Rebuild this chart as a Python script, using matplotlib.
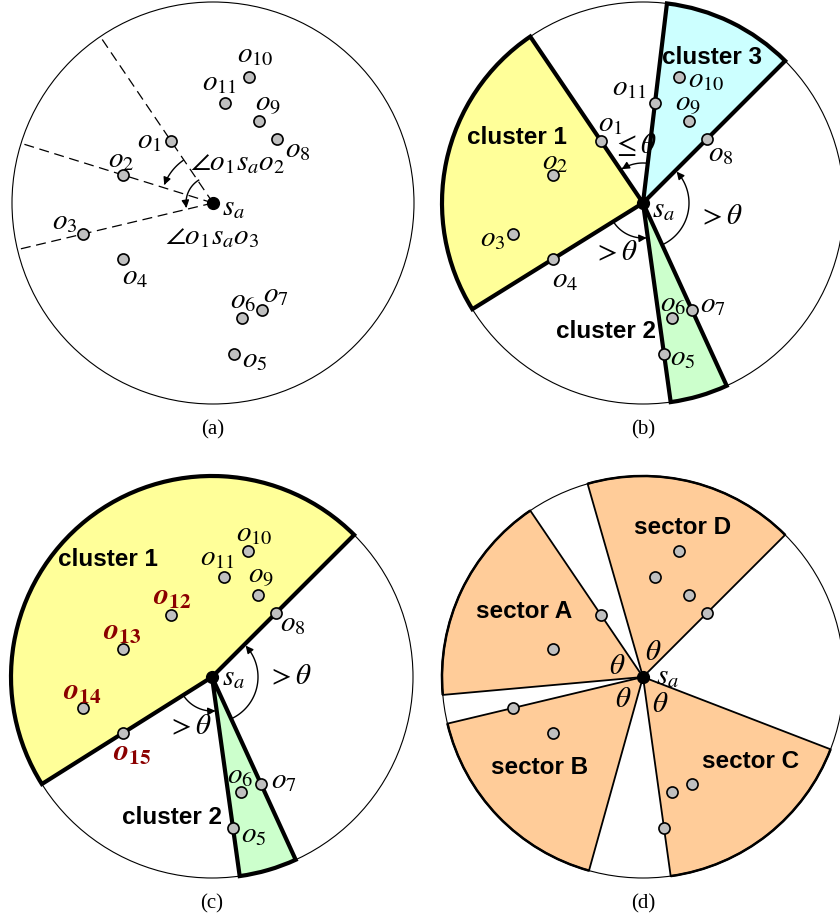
import numpy as np
import matplotlib
matplotlib.use('Agg')
import matplotlib.pyplot as plt
from matplotlib.patches import Wedge, Circle, Arc

plt.rcParams['mathtext.fontset'] = 'stix'
plt.rcParams['font.family'] = ['Liberation Serif', 'DejaVu Serif']

# ---------------- data ----------------
point_names = ['o1', 'o2', 'o3', 'o4', 'o5', 'o6', 'o7', 'o8', 'o9', 'o10', 'o11']
point_dx = [-42, -90, -130, -90, 21, 29, 49, 64, 46, 36, 12]
point_dy = [62, 28, -31, -56, -151, -115, -107, 64, 82, 126, 100]
new_names = ['o12', 'o13', 'o14', 'o15']
new_dx = [-41, -89, -129, -89]
new_dy = [62, 28, -31, -56]
theta_deg = 61
captions = ['(a)', '(b)', '(c)', '(d)']
clusters_b = [('cluster 1', 'o1', 'o4'), ('cluster 2', 'o5', 'o7'), ('cluster 3', 'o8', 'o11')]
clusters_c = [('cluster 1', 'o8', 'o15'), ('cluster 2', 'o5', 'o7')]
sectors_d = [('sector A', 'o1'), ('sector B', 'o3'), ('sector C', 'o5'), ('sector D', 'o8')]

# ---------------- helpers ----------------
W, H = 840, 921
R = 201
FS = 21
pts = {n: (x, y) for n, x, y in zip(point_names, point_dx, point_dy)}
pts.update({n: (x, y) for n, x, y in zip(new_names, new_dx, new_dy)})


def ang(n):
    x, y = pts[n]
    return np.degrees(np.arctan2(y, x)) % 360


def span(a0, a1):
    a0, a1 = a0 % 360, a1 % 360
    if a1 < a0:
        a1 += 360
    return a0, a1


fig = plt.figure(figsize=(W / 100, H / 100), dpi=100)


def make_ax(x0, y0, w, h, cx, cy):
    ax = fig.add_axes([x0 / W, 1 - (y0 + h) / H, w / W, h / H])
    ax.set_xlim(x0 - cx, x0 + w - cx)
    ax.set_ylim(cy - (y0 + h), cy - y0)
    ax.axis('off')
    return ax


def base_circle(ax):
    ax.add_patch(Circle((0, 0), R, fc='white', ec='black', lw=0.8, zorder=1))


def draw_points(ax, names):
    xs = [pts[n][0] for n in names]
    ys = [pts[n][1] for n in names]
    ax.plot(xs, ys, 'o', ms=8, mfc='#c0c0c0', mec='black', mew=1.2, zorder=6, ls='none')


def draw_sa(ax, dx=10, dy=-5):
    ax.plot([0], [0], 'o', ms=8.5, color='black', zorder=7)
    ax.text(dx, dy, r'$s_a$', fontsize=FS, ha='left', va='center', zorder=8)


def label(ax, n, dx, dy, ha='left', **kw):
    x, y = pts[n]
    ax.text(x + dx, y + dy, r'$o_{%s}$' % n[1:], fontsize=FS, ha=ha, va='center',
            zorder=8, **kw)


def arc_arrow(ax, r, a0, a1, lw=1.0):
    a0, a1 = span(a0, a1)
    t = np.radians(np.linspace(a0, a1, 100))
    x, y = r * np.cos(t), r * np.sin(t)
    ax.plot(x[:-4], y[:-4], color='black', lw=lw, zorder=5)
    ax.annotate('', xy=(x[-1], y[-1]), xytext=(x[-8], y[-8]),
                arrowprops=dict(arrowstyle='-|>', color='black', lw=lw,
                                mutation_scale=11, shrinkA=0, shrinkB=0), zorder=5)


def caption(ax, s):
    ax.text(0, -227, s, fontsize=15, ha='center', va='center')


def bold_label(ax, name, x, y):
    ax.text(x, y, name, fontsize=17.5, fontweight='bold', family='Liberation Sans',
            ha='center', va='center', zorder=8)


# ---------------- panel (a) ----------------
ax = make_ax(0, 0, 420, 460, 213, 203)
base_circle(ax)
for n in ['o1', 'o2', 'o3']:
    a = np.radians(ang(n))
    ax.plot([0, R * np.cos(a)], [0, R * np.sin(a)], color='black', lw=0.9,
            ls=(0, (8, 4.5)), zorder=2)
arc_arrow(ax, 52, ang('o1') + 1, ang('o2') - 3)
arc_arrow(ax, 27, ang('o1') - 2, ang('o3') - 3)
ax.text(-23, 40, r'$\angle o_1 s_a o_2$', fontsize=FS, ha='left', va='center', zorder=8)
ax.text(-48, -34, r'$\angle o_1 s_a o_3$', fontsize=FS, ha='left', va='center', zorder=8)
draw_points(ax, point_names)
draw_sa(ax, 9, -5)
lab_a = {'o1': (-9, 0, 'right'), 'o2': (-15, 15, 'left'), 'o3': (-6, 12, 'right'),
         'o4': (-1, -18, 'left'), 'o5': (8, -6, 'left'), 'o6': (-12, 17, 'left'),
         'o7': (1, 15, 'left'), 'o8': (8, -11, 'left'), 'o9': (-4, 16, 'left'),
         'o10': (-12, 22, 'left'), 'o11': (-23, 20, 'left')}
for n, (dx, dy, ha) in lab_a.items():
    label(ax, n, dx, dy, ha)
caption(ax, captions[0])

# ---------------- panel (b) ----------------
ax = make_ax(420, 0, 420, 460, 643, 203)
base_circle(ax)
colors_b = {'cluster 1': '#ffff99', 'cluster 2': '#ccffcc', 'cluster 3': '#ccffff'}
for name, p0, p1 in clusters_b:
    a0, a1 = span(ang(p0), ang(p1))
    ax.add_patch(Wedge((0, 0), R, a0, a1, fc=colors_b[name], ec='black', lw=3,
                       zorder=2, joinstyle='miter'))
arc_arrow(ax, 40, ang('o11'), ang('o1') - 2)
arc_arrow(ax, 46, ang('o7') + 2, ang('o8') - 2)
arc_arrow(ax, 35, ang('o4') + 3, ang('o5') - 2)
draw_points(ax, point_names)
draw_sa(ax, 9, -7)
lab_b = {'o1': (-3, 17, 'left'), 'o2': (-11, 13, 'left'), 'o3': (-8, -5, 'right'),
         'o4': (-1, -21, 'left'), 'o5': (6, -4, 'left'), 'o6': (-12, 14, 'left'),
         'o7': (8, 5, 'left'), 'o8': (1, -15, 'left'), 'o9': (-14, 16, 'left'),
         'o10': (9, -3, 'left'), 'o11': (-8, 15, 'right')}
for n, (dx, dy, ha) in lab_b.items():
    label(ax, n, dx, dy, ha)
ax.text(-31, 58, r'$\leq\theta$', fontsize=FS, ha='left', va='center', zorder=8)
ax.text(55, -14, r'$>\theta$', fontsize=FS, ha='left', va='center', zorder=8)
ax.text(-50, -50, r'$>\theta$', fontsize=FS, ha='left', va='center', zorder=8)
lbl_pos_b = {'cluster 1': (-126, 65), 'cluster 2': (-37, -129), 'cluster 3': (69, 146)}
for name, (x, y) in lbl_pos_b.items():
    bold_label(ax, name, x, y)
caption(ax, captions[1])

# ---------------- panel (c) ----------------
ax = make_ax(0, 460, 420, 461, 212, 677)
base_circle(ax)
colors_c = {'cluster 1': '#ffff99', 'cluster 2': '#ccffcc'}
for name, p0, p1 in clusters_c:
    a0, a1 = span(ang(p0), ang(p1))
    ax.add_patch(Wedge((0, 0), R, a0, a1, fc=colors_c[name], ec='black', lw=3,
                       zorder=2, joinstyle='miter'))
arc_arrow(ax, 46, ang('o7') + 2, ang('o8') - 2)
arc_arrow(ax, 34, ang('o15') + 3, ang('o5') - 2)
shown_c = point_names[4:] + new_names
draw_points(ax, shown_c)
draw_sa(ax, 10, -1)
lab_c = {'o5': (8, -7), 'o6': (-14, 16), 'o7': (10, 3), 'o8': (4, -11),
         'o9': (-10, 18), 'o10': (-12, 17), 'o11': (-24, 19)}
for n, (dx, dy) in lab_c.items():
    label(ax, n, dx, dy, 'left')
lab_new = {'o12': (-18, 18), 'o13': (-20, 17), 'o14': (-20, 16), 'o15': (-10, -20)}
for n, (dx, dy) in lab_new.items():
    x, y = pts[n]
    ax.text(x + dx, y + dy, r'$\mathbfit{o}_{\mathbf{%s}}$' % n[1:], fontsize=22,
            color='#8b0000', ha='left', va='center', zorder=8)
ax.text(55, 0, r'$>\theta$', fontsize=FS, ha='left', va='center', zorder=8)
ax.text(-45, -50, r'$>\theta$', fontsize=FS, ha='left', va='center', zorder=8)
lbl_pos_c = {'cluster 1': (-104, 117), 'cluster 2': (-40, -140)}
for name, (x, y) in lbl_pos_c.items():
    bold_label(ax, name, x, y)
caption(ax, captions[2])

# ---------------- panel (d) ----------------
ax = make_ax(420, 460, 420, 461, 643, 677)
base_circle(ax)
for name, p in sectors_d:
    a0 = ang(p)
    ax.add_patch(Wedge((0, 0), R, a0, a0 + theta_deg, fc='#ffcc99', ec='black', lw=1.3,
                       zorder=2))
    ax.add_patch(Arc((0, 0), 2 * R, 2 * R, theta1=a0, theta2=a0 + theta_deg,
                     color='black', lw=1.8, zorder=3))
draw_points(ax, point_names)
draw_sa(ax, 13, 0)
for (x, y) in [(-26, 10), (10, 24), (-20, -23), (17, -28)]:
    ax.text(x, y, r'$\theta$', fontsize=FS, ha='center', va='center', zorder=8)
lbl_pos_d = {'sector A': (-119, 65), 'sector B': (-103, -91), 'sector C': (108, -85),
             'sector D': (40, 149)}
for name, (x, y) in lbl_pos_d.items():
    bold_label(ax, name, x, y)
caption(ax, captions[3])

fig.savefig('out.png', dpi=100)
